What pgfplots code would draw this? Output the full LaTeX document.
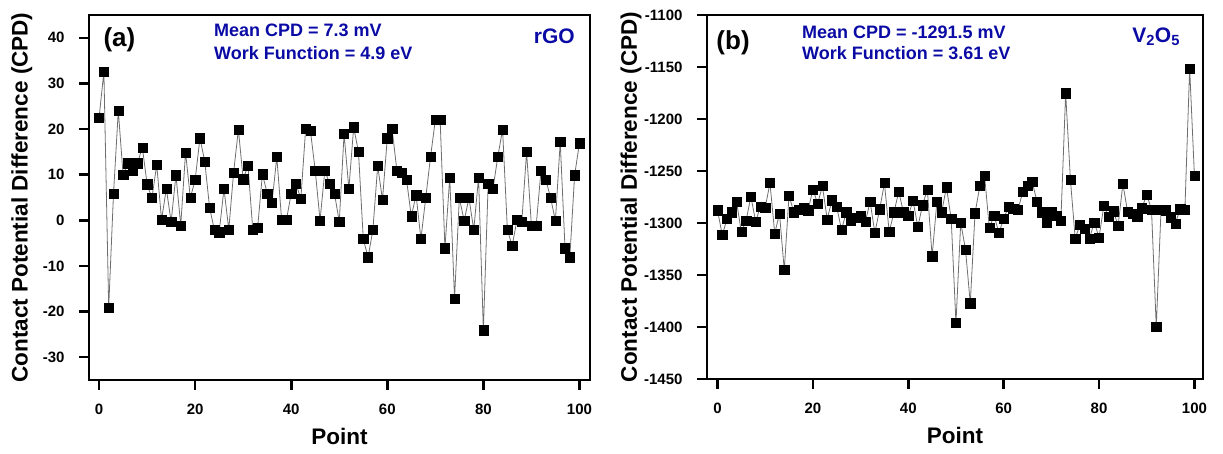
\documentclass[border=0pt]{standalone}
\usepackage{fontspec}
\setmainfont{Liberation Sans}
\usepackage{pgfplots}
\pgfplotsset{compat=1.18}
\definecolor{annblue}{RGB}{10,10,165}
\definecolor{linegray}{RGB}{110,110,110}

\pgfplotstableread{
x y
0 22.5
1 32.6
2 -19.1
3 5.8
4 24
5 10
6 12.5
7 11
8 12.5
9 16
10 7.9
11 4.9
12 12.2
13 0.1
14 6.9
15 -0.3
16 9.9
17 -1.1
18 14.9
19 4.9
20 8.9
21 18
22 12.9
23 2.8
24 -2.1
25 -2.6
26 6.9
27 -2
28 10.4
29 19.9
30 9
31 12
32 -2.1
33 -1.7
34 10.1
35 5.9
36 3.9
37 13.9
38 0.1
39 0.1
40 5.9
41 8
42 4.7
43 20
44 19.6
45 10.9
46 0
47 10.9
48 8
49 5.9
50 -0.3
51 18.9
52 6.9
53 20.4
54 15
55 -4.1
56 -8.1
57 -2.1
58 11.9
59 4.5
60 18
61 20
62 10.9
63 10.5
64 8.9
65 0.9
66 5.5
67 -4.1
68 4.9
69 13.9
70 22
71 22
72 -6.1
73 9.4
74 -17.1
75 4.9
76 -0.1
77 4.9
78 -2.1
79 9.4
80 -24.1
81 8
82 6.9
83 13.9
84 19.9
85 -2.1
86 -5.6
87 0.1
88 -0.3
89 15
90 -1.1
91 -1.1
92 10.9
93 8.9
94 4.9
95 -0.1
96 17.2
97 -6.1
98 -8.1
99 9.9
100 16.9
}\rgo

\pgfplotstableread{
x y
0 -1287.7
1 -1311.6
2 -1296
3 -1289.7
4 -1279.7
5 -1308.7
6 -1297.7
7 -1274.5
8 -1298.7
9 -1284.2
10 -1285.2
11 -1261.6
12 -1310
13 -1291
14 -1345.2
15 -1273.5
16 -1289.7
17 -1287
18 -1285.2
19 -1287.7
20 -1267.7
21 -1281.3
22 -1264.5
23 -1296.5
24 -1278
25 -1284.5
26 -1306.5
27 -1289.7
28 -1297.7
29 -1295.2
30 -1293.2
31 -1298.7
32 -1279.7
33 -1309.4
34 -1286.8
35 -1261.6
36 -1308.7
37 -1289.7
38 -1270
39 -1289.7
40 -1292.9
41 -1278.7
42 -1303.5
43 -1282.9
44 -1267.7
45 -1331.9
46 -1279.7
47 -1289.7
48 -1265.5
49 -1296
50 -1396.1
51 -1299.7
52 -1325.5
53 -1377.1
54 -1290.6
55 -1264.5
56 -1254.5
57 -1304.8
58 -1292.9
59 -1309.4
60 -1296.1
61 -1284.5
62 -1286.1
63 -1287.4
64 -1270
65 -1264.5
66 -1260.6
67 -1279.7
68 -1289.7
69 -1299.7
70 -1289.7
71 -1293.2
72 -1297.7
73 -1175.2
74 -1258.4
75 -1314.8
76 -1301.6
77 -1305.2
78 -1314.8
79 -1299.4
80 -1313.9
81 -1283.5
82 -1293.9
83 -1288.7
84 -1302.3
85 -1262.6
86 -1289.4
87 -1291.3
88 -1294.2
89 -1285.8
90 -1272.6
91 -1287.1
92 -1400
93 -1287.1
94 -1287.7
95 -1294.5
96 -1300.3
97 -1286.8
98 -1287.4
99 -1151.3
100 -1254.5
}\vo

\pgfplotsset{
  cpdstyle/.style={
    scale only axis,
    anchor=south west,
    axis line style={line width=2.6pt},
    tick style={line width=2.6pt, black},
    major tick length=10pt,
    tick align=outside,
    tick pos=left,
    xtick={0,20,40,60,80,100},
    /pgf/number format/assume math mode=true,
    /pgf/number format/1000 sep={},
    ticklabel style={font=\fontsize{15}{15}\selectfont\bfseries},
    xticklabel style={yshift=-10pt},
    yticklabel style={xshift=-11pt},
    xlabel={Point},
    ylabel={Contact Potential Difference (CPD)},
    label style={font=\fontsize{22.5}{24}\selectfont\bfseries},
    xlabel style={at={(axis description cs:0.5,-0.178)}, anchor=base},
    scaled ticks=false,
  },
  cpdplot/.style={
    color=linegray, line width=0.8pt, mark=square*, mark size=4.6pt,
    mark options={fill=black, draw=black, line width=0.4pt}
  }
}

\begin{document}
\begin{tikzpicture}
\begin{axis}[cpdstyle,
  at={(89pt,74pt)}, width=501pt, height=365pt,
  xmin=-2.1, xmax=102.2, ymin=-35, ymax=45,
  ytick={-30,-20,-10,0,10,20,30,40},
  ylabel style={at={(axis description cs:-0.134,0.5)}, anchor=center, rotate=0},
]
\addplot[cpdplot] table[x=x,y=y] {\rgo};
\node[anchor=base west, font=\fontsize{26}{26}\selectfont\bfseries] at (axis description cs:0.022,0.915) {(a)};
\node[anchor=base west, font=\fontsize{18}{18}\selectfont\bfseries, text=annblue, inner sep=0pt] at (axis description cs:0.2495,0.940) {Mean CPD = 7.3 mV};
\node[anchor=base west, font=\fontsize{18}{18}\selectfont\bfseries, text=annblue, inner sep=0pt] at (axis description cs:0.2495,0.879) {Work Function = 4.9 eV};
\node[anchor=base east, font=\fontsize{21}{21}\selectfont\bfseries, text=annblue, inner sep=0pt] at (axis description cs:0.970,0.923) {rGO};
\end{axis}

\begin{axis}[cpdstyle,
  at={(707pt,75pt)}, width=496pt, height=364pt,
  xmin=-2.2, xmax=101.8, ymin=-1450, ymax=-1100,
  ytick={-1450,-1400,-1350,-1300,-1250,-1200,-1150,-1100},
  ylabel style={at={(axis description cs:-0.153,0.5)}, anchor=center, rotate=0},
]
\addplot[cpdplot] table[x=x,y=y] {\vo};
\node[anchor=base west, font=\fontsize{26}{26}\selectfont\bfseries] at (axis description cs:0.012,0.905) {(b)};
\node[anchor=base west, font=\fontsize{18}{18}\selectfont\bfseries, text=annblue, inner sep=0pt] at (axis description cs:0.1915,0.936) {Mean CPD = -1291.5 mV};
\node[anchor=base west, font=\fontsize{18}{18}\selectfont\bfseries, text=annblue, inner sep=0pt] at (axis description cs:0.1915,0.878) {Work Function = 3.61 eV};
\node[anchor=base east, font=\fontsize{21}{21}\selectfont\bfseries, text=annblue, inner sep=0pt] at (axis description cs:0.954,0.925) {V\textsubscript{2}O\textsubscript{5}};
\end{axis}
\pgfresetboundingbox
\useasboundingbox (0pt,0pt) rectangle (1223pt,454pt);
\end{tikzpicture}
\end{document}
